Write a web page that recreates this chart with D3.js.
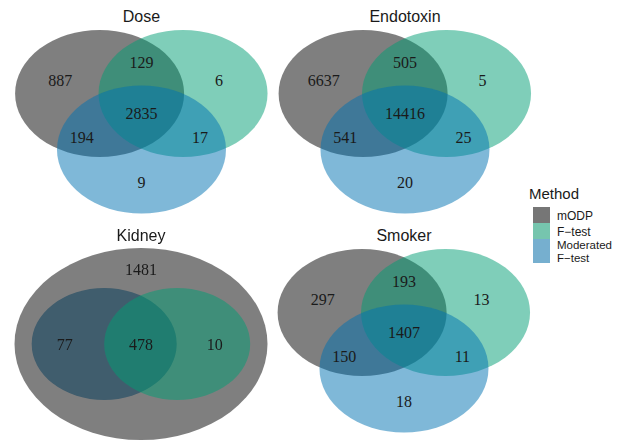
<!DOCTYPE html>
<html><head><meta charset="utf-8">
<script src="https://cdn.jsdelivr.net/npm/d3@7"></script>
<style>html,body{margin:0;padding:0;background:#fff;}</style>
</head><body>
<svg id="chart" width="626" height="442"></svg>
<script>
// ---- data ----
const panelTitles = ["Dose", "Endotoxin", "Kidney", "Smoker"];
const methods = ["mODP", "F\u2212test", "Moderated F\u2212test"];
// region counts for 3-set panels: [mODP only, mODP&F, F only, all, mODP&Mod, F&Mod, Mod only]
const regionKeys = ["a", "ab", "b", "abc", "ac", "bc", "c"];
const doseCounts = [887, 129, 6, 2835, 194, 17, 9];
const endotoxinCounts = [6637, 505, 5, 14416, 541, 25, 20];
const smokerCounts = [297, 193, 13, 1407, 150, 11, 18];
// nested panel (Kidney): [mODP only, mODP&Mod, all, mODP&F]
const kidneyKeys = ["a", "ac", "abc", "ab"];
const kidneyCounts = [1481, 77, 478, 10];

const colors = {mODP: "#000000", F: "#009E73", Mod: "#0072B2"};
const legendColors = ["#767676", "#76c5ae", "#76afcf"];

const svg = d3.select("#chart");

// unit layout scales per panel
function panelScales(cx, top) {
  const x = d3.scaleLinear().domain([-1, 1]).range([cx - 127, cx + 127]);
  const y = d3.scaleLinear().domain([0, 1]).range([top, top + 200]);
  return {x, y};
}

const ellipses3 = [
  {set: "mODP", ux: -0.33, uy: 0.4675, rx: 84.5, ry: 63.5},
  {set: "F", ux: 0.327, uy: 0.4675, rx: 84.5, ry: 63.5},
  {set: "Mod", ux: 0.0, uy: 0.7475, rx: 84.5, ry: 64}
];
const labelPos3 = {
  a: [-0.64, 0.40], ab: [0, 0.31], b: [0.61, 0.40], abc: [0, 0.565],
  ac: [-0.47, 0.685], bc: [0.46, 0.685], c: [0, 0.91]
};

function addTitle(g, title, cx, top) {
  g.append("text").attr("x", cx).attr("y", top + 22)
    .attr("text-anchor", "middle")
    .attr("font-family", "'Liberation Sans', Arial, sans-serif")
    .attr("font-size", 16).attr("fill", "#1a1a1a").text(title);
}

function addCounts(g, data, pos, s) {
  g.selectAll("text.n").data(data).join("text")
    .attr("class", "n")
    .attr("x", d => s.x(pos[d.k][0])).attr("y", d => s.y(pos[d.k][1]))
    .attr("text-anchor", "middle").attr("dominant-baseline", "central")
    .attr("font-family", "'Liberation Serif', 'Times New Roman', serif")
    .attr("font-size", 16).attr("fill", "#1a1a1a")
    .text(d => d.v);
}

function draw3(title, counts, cx, top) {
  const s = panelScales(cx, top);
  const g = svg.append("g").style("isolation", "isolate");
  g.selectAll("ellipse").data(ellipses3).join("ellipse")
    .attr("cx", d => s.x(d.ux)).attr("cy", d => s.y(d.uy))
    .attr("rx", d => d.rx).attr("ry", d => d.ry)
    .attr("fill", d => colors[d.set]).attr("fill-opacity", 0.5);
  addCounts(g, regionKeys.map((k, i) => ({k, v: counts[i]})), labelPos3, s);
  addTitle(g, title, cx, top);
}

function drawKidney(title, counts, cx, top) {
  const s = panelScales(cx, top);
  const g = svg.append("g").style("isolation", "isolate");
  const ells = [
    {set: "mODP", ux: 0, uy: 0.625, rx: 126.5, ry: 96},
    {set: "Mod", ux: -0.29, uy: 0.625, rx: 72.5, ry: 56, blend: "multiply"},
    {set: "F", ux: 0.285, uy: 0.625, rx: 73, ry: 56}
  ];
  g.selectAll("ellipse").data(ells).join("ellipse")
    .attr("cx", d => s.x(d.ux)).attr("cy", d => s.y(d.uy))
    .attr("rx", d => d.rx).attr("ry", d => d.ry)
    .attr("fill", d => colors[d.set]).attr("fill-opacity", 0.5)
    .style("mix-blend-mode", d => d.blend || "normal");
  const lp = {a: [0, 0.25], ac: [-0.6, 0.625], abc: [0, 0.625], ab: [0.58, 0.625]};
  addCounts(g, kidneyKeys.map((k, i) => ({k, v: counts[i]})), lp, s);
  addTitle(g, title, cx, top);
}

draw3(panelTitles[0], doseCounts, 141.5, 0);
draw3(panelTitles[1], endotoxinCounts, 405, 0);
drawKidney(panelTitles[2], kidneyCounts, 141, 219);
draw3(panelTitles[3], smokerCounts, 404, 219);

// legend
const lg = svg.append("g");
lg.append("text").attr("x", 529).attr("y", 199)
  .attr("font-family", "'Liberation Sans', Arial, sans-serif")
  .attr("font-size", 15).attr("fill", "#1a1a1a").text("Method");
const keys = [
  {y: 207, h: 16, lines: [methods[0]]},
  {y: 223, h: 16, lines: [methods[1]]},
  {y: 239, h: 24, lines: ["Moderated", "F\u2212test"]}
];
keys.forEach((k, i) => {
  lg.append("rect").attr("x", 533).attr("y", k.y).attr("width", 17).attr("height", k.h)
    .attr("fill", legendColors[i]);
  if (k.lines.length === 1) {
    lg.append("text").attr("x", 557).attr("y", k.y + k.h / 2 + 4.5)
      .attr("font-family", "'Liberation Sans', Arial, sans-serif")
      .attr("font-size", 12).attr("fill", "#1a1a1a").text(k.lines[0]);
  } else {
    k.lines.forEach((ln, j) => {
      lg.append("text").attr("x", 557).attr("y", k.y + 10 + j * 12.5)
        .attr("font-family", "'Liberation Sans', Arial, sans-serif")
        .attr("font-size", 11.5).attr("fill", "#1a1a1a").text(ln);
    });
  }
});
</script>
</body></html>
